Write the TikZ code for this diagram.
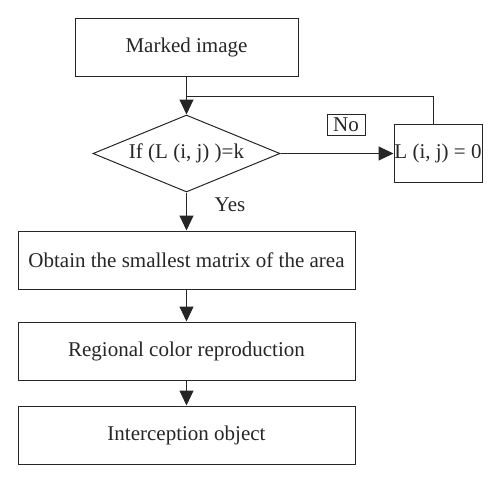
\documentclass[tikz,border=0pt]{standalone}
\usepackage{fontspec}
\setmainfont{Liberation Serif}
\usetikzlibrary{shapes.geometric,arrows.meta}

\tikzset{
  stepbox/.style={draw, line width=1pt, minimum width=337pt, minimum height=58pt, inner sep=0pt},
  flow/.style={line width=1pt, -{Triangle[length=15pt,width=14pt]}}
}

\begin{document}
\begin{tikzpicture}[x=1pt, y=-1pt, font=\fontsize{21}{25}\selectfont, color=black!85]
    \useasboundingbox (0,0) rectangle (500,482);
    \node[stepbox, minimum width=223pt] (marked) at (186.5,47) {Marked image};
    \node[draw, line width=1pt, shape=diamond, aspect=2.43, minimum width=187pt, minimum height=77pt, inner sep=0pt] (test) at (186.5,153.5) {If (L (i, j) )=k};
    \node[draw, line width=1pt, minimum width=88pt, minimum height=58pt, inner sep=0pt] (zero) at (438,153.5) {L (i, j) = 0};
    \node[draw, line width=1pt, minimum width=38pt, minimum height=21pt, inner sep=0pt] (no) at (346,124.5) {No};
    \node (yes) at (230,205) {Yes};
    \node[stepbox] (obtain) at (186.5,260) {Obtain the smallest matrix of the area};
    \node[stepbox] (regional) at (186.5,351) {Regional color reproduction};
    \node[stepbox] (intercept) at (186.5,435) {Interception object};
    \coordinate (merge) at (186.5,96);
    \draw[flow] (marked) -- (test);
    \draw[line width=1pt] ([xshift=-5pt]zero.north) |- (merge);
    \draw[flow] (test) -- (zero);
    \draw[flow] (test) -- (obtain);
    \draw[flow] (obtain) -- (regional);
    \draw[flow] (regional) -- (intercept);
\end{tikzpicture}
\end{document}
